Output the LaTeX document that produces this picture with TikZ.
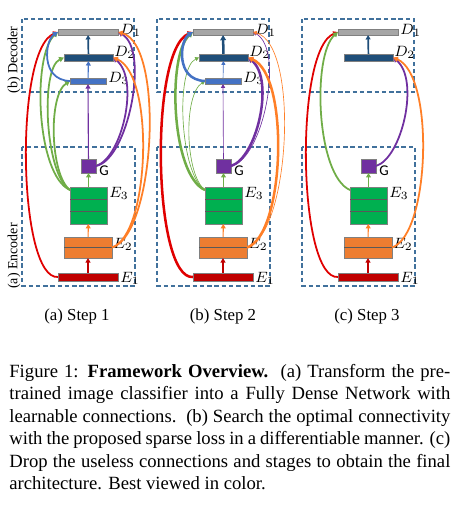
\documentclass[tikz,border=0pt]{standalone}
\usepackage{fontspec}
\setmainfont{Liberation Serif}
\newfontfamily\calib{Carlito}
\usepackage{xcolor}
\usepackage{tikz}
\usetikzlibrary{arrows.meta,calc,positioning}

\definecolor{boxblue}{HTML}{41719C}
\definecolor{dgray}{HTML}{A6A6A6}
\definecolor{dnavy}{HTML}{1F4E79}
\definecolor{dblue}{HTML}{4472C4}
\definecolor{gpurple}{HTML}{7030A0}
\definecolor{egreen}{HTML}{00B050}
\definecolor{eorange}{HTML}{ED7D31}
\definecolor{ered}{HTML}{C00000}
\definecolor{cred}{HTML}{E00000}
\definecolor{cgreen}{HTML}{70AD47}
\definecolor{corange}{HTML}{FF7F27}

\tikzset{
  blk/.style={draw=black!50, line width=0.45pt, inner sep=0pt, outer sep=0pt},
  dOne/.style={blk, fill=dgray, minimum width=32.2pt, minimum height=3.2pt},
  dTwo/.style={blk, fill=dnavy, minimum width=26.3pt, minimum height=3.8pt},
  dThree/.style={blk, fill=dblue, minimum width=19.3pt, minimum height=3.3pt},
  gbox/.style={blk, fill=gpurple, minimum width=8pt, minimum height=7.5pt},
  eThree/.style={blk, fill=egreen, minimum width=19.8pt, minimum height=19.8pt},
  eTwo/.style={blk, fill=eorange, minimum width=25.7pt, minimum height=11.3pt},
  eOne/.style={blk, fill=ered, minimum width=32.2pt, minimum height=4.3pt},
  divline/.style={draw=black!65, line width=0.6pt},
  dashbox/.style={draw=boxblue, line width=0.7pt, dash pattern=on 2.4pt off 1.5pt},
  lbl/.style={font=\fontsize{8}{8}\selectfont, inner sep=0.5pt},
  conn/.style={line width=0.95pt, -{Triangle[length=2.6pt,width=2.8pt]}},
  wide/.style={line width=1.35pt, -{Triangle[length=2.8pt,width=3pt]}},
  hair/.style={line width=0.35pt, -{Triangle[length=2pt,width=2.2pt]}},
  uparr/.style={line width=0.6pt, -{Triangle[length=2.4pt,width=2.6pt]}},
}

\begin{document}
\begin{tikzpicture}[x=0.536pt, y=-0.536pt]
\useasboundingbox (0,0) rectangle (453,505);

% Stages of the three panels
\foreach \p/\dx in {a/0,b/135,c/280}{
  \begin{scope}[shift={(\dx,0)}]
    \draw[dashbox] (22,19) rectangle (134,92);
    \draw[dashbox] (22,147) rectangle (135,286);
    \node[dOne] (\p-D1) at (88,32) {};
    \node[dTwo] (\p-D2) at (88.5,57.5) {};
    \node[gbox] (\p-G) at (88.5,166) {};
    \node[eThree] (\p-E3) at (88.5,205.5) {};
    \node[eTwo] (\p-E2) at (88,247.5) {};
    \node[eOne] (\p-E1) at (88,277) {};
    \draw[divline] ($(\p-E3.north west)+(0,12.3)$) -- ($(\p-E3.north east)+(0,12.3)$);
    \draw[divline] ($(\p-E3.north west)+(0,24.6)$) -- ($(\p-E3.north east)+(0,24.6)$);
    \draw[divline] (\p-E2.west) -- (\p-E2.east);
    \coordinate (\p-e3o) at ($(\p-E3.north west)+(0,3)$);
    \node[lbl, anchor=west] (\p-lD1) at ($(\p-D1.east)+(1,-2)$) {$D_1$};
    \node[lbl, anchor=west] (\p-lD2) at ($(\p-D2.east)+(0,-5)$) {$D_2$};
    \node[lbl, anchor=west] (\p-lG) at ($(\p-G.east)+(2,5)$) {\calib G};
    \node[lbl, anchor=west] (\p-lE3) at ($(\p-E3.north east)+(1,6)$) {$E_3$};
    \node[lbl, anchor=west] (\p-lE2) at ($(\p-E2.east)+(0,-3)$) {$E_2$};
    \node[lbl, anchor=west] (\p-lE1) at ($(\p-E1.east)+(1,1)$) {$E_1$};
    % forward path
    \draw[uparr, ered] (\p-E1) -- (\p-E2);
    \draw[uparr, corange] (\p-E2) -- (\p-E3);
    \draw[uparr, cgreen] (\p-E3) -- (\p-G);
  \end{scope}
}
\foreach \p/\dx in {a/0,b/135}{
  \node[dThree] (\p-D3) at (88+\dx,81) {};
  \node[lbl, anchor=west] (\p-lD3) at ($(\p-D3.east)+(1,-3)$) {$D_3$};
}

% side labels
\node[rotate=90, font=\fontsize{7.5}{7.5}\selectfont, inner sep=0pt] (decl) at (14,60) {(b) Decoder};
\node[rotate=90, font=\fontsize{7.5}{7.5}\selectfont, inner sep=0pt] (encl) at (14,256) {(a) Encoder};

% Step 1: fully dense
\draw[uparr, line width=0.9pt, dnavy] (a-D2) -- (a-D1);
\draw[uparr, dblue] (a-D3) -- (a-D2);
\draw[uparr, gpurple] (a-G) -- (a-D3);
\draw[conn, cred] (a-E1.west) .. controls +(-40,3) and +(-44,18) .. (a-D1.west);
\draw[conn, cgreen] (a-e3o) .. controls +(-34,-15) and +(-26,23) .. (a-D1.west);
\draw[conn, cgreen] (a-e3o) .. controls +(-25,-15) and +(-24,11) .. (a-D2.west);
\draw[conn, cgreen] (a-e3o) .. controls +(-20,-15) and +(-22,14) .. (a-D3.west);
\draw[conn, dblue] (a-D3.west) .. controls +(-30,-1) and +(-13,8) .. (a-D1.west);
\draw[conn, gpurple] (a-G.east) .. controls +(26,-8) and +(27,22) .. (a-D2.east);
\draw[conn, gpurple] (a-G.east) .. controls +(32,-6) and +(32,18) .. (a-D1.east);
\draw[conn, corange] (a-E2.east) .. controls +(38,-12.5) and +(42,17.5) .. (a-D2.east);
\draw[conn, corange] (a-E2.east) .. controls +(43,-12.5) and +(47,13) .. (a-D1.east);

% Step 2: learned weights
\draw[wide, dnavy] (b-D2) -- (b-D1);
\draw[hair, dblue] (b-D3) -- (b-D2);
\draw[hair, gpurple] (b-G) -- (b-D3);
\draw[wide, cred] (b-E1.west) .. controls +(-40,3) and +(-44,18) .. (b-D1.west);
\draw[wide, cgreen] (b-e3o) .. controls +(-34,-15) and +(-26,23) .. (b-D1.west);
\draw[hair, cgreen] (b-e3o) .. controls +(-25,-15) and +(-24,11) .. (b-D2.west);
\draw[hair, cgreen] (b-e3o) .. controls +(-20,-15) and +(-22,14) .. (b-D3.west);
\draw[wide, dblue] (b-D3.west) .. controls +(-30,-1) and +(-13,8) .. (b-D1.west);
\draw[wide, gpurple] (b-G.east) .. controls +(26,-8) and +(27,22) .. (b-D2.east);
\draw[hair, gpurple] (b-G.east) .. controls +(32,-6) and +(32,18) .. (b-D1.east);
\draw[wide, corange] (b-E2.east) .. controls +(38,-12.5) and +(42,17.5) .. (b-D2.east);
\draw[hair, corange] (b-E2.east) .. controls +(43,-12.5) and +(47,13) .. (b-D1.east);

% Step 3: pruned
\draw[uparr, line width=0.9pt, dnavy] (c-D2) -- (c-D1);
\draw[conn, cred] (c-E1.west) .. controls +(-40,3) and +(-44,18) .. (c-D1.west);
\draw[conn, cgreen] (c-e3o) .. controls +(-34,-15) and +(-26,23) .. (c-D1.west);
\draw[conn, gpurple] (c-G.east) .. controls +(26,-8) and +(27,22) .. (c-D2.east);
\draw[conn, corange] (c-E2.east) .. controls +(38,-12.5) and +(42,17.5) .. (c-D2.east);

% sub captions
\node[font=\small] (capa) at (77,316) {(a) Step 1};
\node[font=\small] (capb) at (223,316) {(b) Step 2};
\node[font=\small] (capc) at (367,316) {(c) Step 3};

% caption
\node[anchor=north west, inner sep=0pt, align=left, font=\fontsize{10}{12}\selectfont] (figcap) at (9,364) {%
\makebox[236.4pt][s]{Figure 1: \textbf{Framework Overview.}\ \ (a) Transform the pre-}\\
\makebox[236.4pt][s]{trained image classifier into a Fully Dense Network with}\\
\makebox[236.4pt][s]{learnable connections.\ \ (b) Search the optimal connectivity}\\
\makebox[236.4pt][s]{with the proposed sparse loss in a differentiable manner. (c)}\\
\makebox[236.4pt][s]{Drop the useless connections and stages to obtain the final}\\
architecture. Best viewed in color.};
\end{tikzpicture}
\end{document}
